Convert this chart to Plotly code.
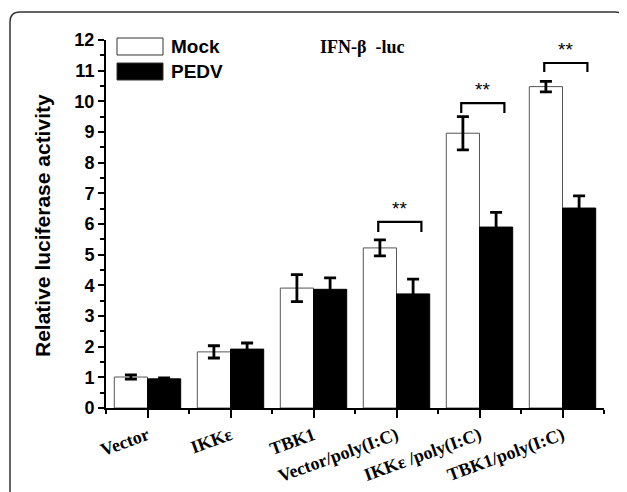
import plotly.graph_objects as go

categories = ["Vector", "IKKε", "TBK1", "Vector/poly(I:C)", "IKKε /poly(I:C)", "TBK1/poly(I:C)"]
mock = [1.01, 1.83, 3.91, 5.22, 8.96, 10.48]
mock_err = [0.07, 0.20, 0.44, 0.26, 0.54, 0.17]
pedv = [0.95, 1.92, 3.87, 3.72, 5.90, 6.52]
pedv_err = [0.03, 0.20, 0.37, 0.48, 0.48, 0.40]

# significance brackets: group index, bracket top, leg bottom, star label
sig_groups = [3, 4, 5]
sig_top = [6.07, 9.94, 11.25]
sig_leg = [5.74, 9.62, 10.96]
sig_text = ["**", "**", "**"]

x = list(range(len(categories)))

fig = go.Figure()
fig.add_trace(go.Bar(
    x=x, y=mock, name="Mock",
    marker=dict(color="white", line=dict(color="#555555", width=1)),
    error_y=dict(type="data", array=mock_err, color="black", thickness=2.8, width=6),
))
fig.add_trace(go.Bar(
    x=x, y=pedv, name="PEDV",
    marker=dict(color="black", line=dict(color="black", width=1)),
    error_y=dict(type="data", array=pedv_err, color="black", thickness=2.8, width=6),
))

OFF = 8  # page body margin
W, H = 627 - OFF, 492 - OFF
L, R, T, B = 106 - OFF, 23, 40 - OFF, 84
pw, ph = W - L - R, H - T - B

def px(xp):
    return (xp - OFF - L) / pw

def py(yp):
    return (H - B - (yp - OFF)) / ph

shapes = []
annotations = []

for g, top, leg, txt in zip(sig_groups, sig_top, sig_leg, sig_text):
    x0, x1 = g - 0.22, g + 0.3
    shapes.append(dict(type="path", xref="x", yref="y",
                       path=f"M {x0},{leg} L {x0},{top} L {x1},{top} L {x1},{leg}",
                       line=dict(color="black", width=2.2)))
    annotations.append(dict(x=(x0 + x1) / 2, y=top, xref="x", yref="y", text=txt,
                            showarrow=False, yanchor="bottom", yshift=1,
                            font=dict(family="Liberation Sans", size=19, color="black")))

# outer rounded frame
x_l, x_r, y_t, y_b = 10, 625, 12, 520
rr = 10
shapes.append(dict(type="path", xref="paper", yref="paper",
                   path=(f"M {px(x_l)},{py(y_b)} L {px(x_l)},{py(y_t + rr)} "
                         f"Q {px(x_l)},{py(y_t)} {px(x_l + rr)},{py(y_t)} "
                         f"L {px(x_r - rr)},{py(y_t)} Q {px(x_r)},{py(y_t)} {px(x_r)},{py(y_t + rr)} "
                         f"L {px(x_r)},{py(y_b)}"),
                   line=dict(color="#333333", width=1.5)))

# manual legend
legend_names = ["Mock", "PEDV"]
legend_fill = ["white", "black"]
legend_y = [46.5, 71.5]
for name, fill, yc in zip(legend_names, legend_fill, legend_y):
    shapes.append(dict(type="rect", xref="paper", yref="paper",
                       x0=px(117), x1=px(163), y0=py(yc - 8.5), y1=py(yc + 8.5),
                       fillcolor=fill, line=dict(color="#333333", width=1)))
    annotations.append(dict(x=px(169), y=py(yc), xref="paper", yref="paper", text=name,
                            showarrow=False, xanchor="left", yanchor="middle",
                            font=dict(family="Liberation Sans", size=19, color="black", weight="bold")))

annotations.append(dict(x=px(362), y=py(47), xref="paper", yref="paper", text="IFN-β  -luc",
                        showarrow=False, xanchor="center", yanchor="middle",
                        font=dict(family="Liberation Serif", size=18, color="black", weight="bold")))

annotations.append(dict(x=px(42), y=py(226), xref="paper", yref="paper",
                        text="Relative luciferase activity", textangle=-90,
                        showarrow=False, xanchor="center", yanchor="middle",
                        font=dict(family="Liberation Sans", size=21, color="black", weight="bold")))

fig.update_layout(
    width=W, height=H,
    margin=dict(l=L, r=R, t=T, b=B, autoexpand=False),
    plot_bgcolor="white", paper_bgcolor="white",
    barmode="group", bargap=0.2, bargroupgap=0,
    showlegend=False,
    shapes=shapes, annotations=annotations,
    xaxis=dict(range=[-0.5, 5.5], tickmode="array", tickvals=x, ticktext=categories,
               tickangle=-20, ticks="outside", ticklen=8, tickwidth=2, tickcolor="black",
               automargin=False,
               showline=True, linecolor="black", linewidth=2, showgrid=False, zeroline=False,
               tickfont=dict(family="Liberation Serif", size=18, color="black", weight="bold"),
               minor=dict(tickmode="linear", tick0=-0.5, dtick=1, ticks="outside", ticklen=4,
                          tickwidth=2, tickcolor="black")),
    yaxis=dict(range=[0, 12], tickmode="linear", tick0=0, dtick=1,
               ticks="outside", ticklen=6, tickwidth=2, tickcolor="black",
               automargin=False,
               showline=True, linecolor="black", linewidth=2, showgrid=False, zeroline=False,
               tickfont=dict(family="Liberation Sans", size=18, color="black", weight="bold"),
               minor=dict(tickmode="linear", tick0=0.5, dtick=1, ticks="outside", ticklen=4,
                          tickwidth=2, tickcolor="black")),
)

fig.write_html("out.html")
